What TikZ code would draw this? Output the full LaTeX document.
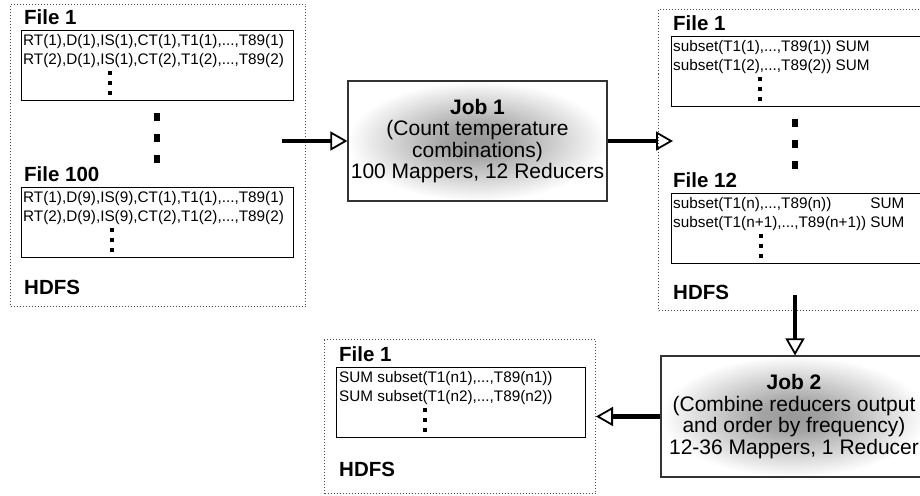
\documentclass[tikz,border=0pt]{standalone}
\usepackage{fontspec}
\setmainfont{Liberation Sans}
\usetikzlibrary{arrows.meta}
% soft grey glow behind the job descriptions
\pgfdeclareradialshading{jobglow}{\pgfpoint{0bp}{0bp}}{%
  color(0bp)=(black!40); color(6bp)=(black!36); color(25bp)=(white); color(50bp)=(white)}
\tikzset{
  hdfsbox/.style={draw=black!70, dotted, line width=1pt, inner sep=0pt, anchor=north west},
  filebox/.style={draw=black, line width=1.3pt, inner sep=0pt, anchor=north west},
  filetext/.style={anchor=north west, inner sep=0pt, align=left, font=\fontsize{15.3}{19}\selectfont},
  ftitle/.style={anchor=west, inner sep=0pt, font=\fontsize{20.5}{22}\selectfont\bfseries},
  jobbox/.style={draw=black!80, line width=1.2pt, shade, shading=jobglow, align=center,
    inner sep=0pt, font=\fontsize{21}{21.5}\selectfont},
  flow/.style={line width=4.5pt, -{Triangle[open, length=17pt, width=19pt, line width'=1.8pt]}},
  rowdot/.style={fill=black},
  gapdot/.style={fill=black},
}
\begin{document}
\begin{tikzpicture}[x=1pt, y=-1pt]
\useasboundingbox (0,0) rectangle (920,495);
\clip (0,0) rectangle (920,495);

% ---------- input files in HDFS ----------
\node[hdfsbox, minimum width=295pt, minimum height=302pt] (hdfsA) at (10,4) {};
\node[ftitle] (inF1) at (24,17) {File 1};
\node[filebox, minimum width=272pt, minimum height=70pt] (inB1) at (21,30) {};
\node[filetext] (inT1) at ([shift={(2,4.5)}]inB1.north west)
  {RT(1),D(1),IS(1),CT(1),T1(1),...,T89(1)\\RT(2),D(1),IS(1),CT(2),T1(2),...,T89(2)};
\node[ftitle] (inF100) at (24,174) {File 100};
\node[filebox, minimum width=272pt, minimum height=70pt] (inB100) at (21,187) {};
\node[filetext] (inT100) at ([shift={(2,4.5)}]inB100.north west)
  {RT(1),D(9),IS(9),CT(1),T1(1),...,T89(1)\\RT(2),D(9),IS(9),CT(2),T1(2),...,T89(2)};
\node[ftitle] (inHDFS) at (24,287) {HDFS};

% ---------- job 1 ----------
\node[jobbox, minimum width=259pt, minimum height=120pt] (job1) at (477.5,141)
  {\textbf{Job 1}\\(Count temperature\\combinations)\\100 Mappers, 12 Reducers};

% ---------- reducer output in HDFS ----------
\node[hdfsbox, minimum width=290pt, minimum height=301pt] (hdfsB) at (658,9) {};
\node[ftitle] (midF1) at (673,23) {File 1};
\node[filebox, minimum width=250pt, minimum height=70pt] (midB1) at (671,36) {};
\node[filetext] (midT1) at ([shift={(2,4.5)}]midB1.north west)
  {subset(T1(1),...,T89(1)) SUM\\subset(T1(2),...,T89(2)) SUM};
\node[ftitle] (midF12) at (673,180) {File 12};
\node[filebox, minimum width=250pt, minimum height=70pt] (midB12) at (671,193) {};
\node[filetext] (midT12) at ([shift={(2,4.5)}]midB12.north west)
  {\rlap{subset(T1(n),...,T89(n))}\phantom{subset(T1(n+1),...,T89(n+1))} SUM\\subset(T1(n+1),...,T89(n+1)) SUM};
\node[ftitle] (midHDFS) at (673,292) {HDFS};

% ---------- job 2 ----------
\node[jobbox, minimum width=266pt, minimum height=121pt] (job2) at (794,416.5)
  {\textbf{Job 2}\\(Combine reducers output\\and order by frequency)\\12-36 Mappers, 1 Reducer};

% ---------- final result in HDFS ----------
\node[hdfsbox, minimum width=271pt, minimum height=154pt] (hdfsC) at (324,339) {};
\node[ftitle] (outF1) at (339,354) {File 1};
\node[filebox, minimum width=249pt, minimum height=70pt] (outB1) at (336,367) {};
\node[filetext] (outT1) at ([shift={(3,4.5)}]outB1.north west)
  {SUM subset(T1(n1),...,T89(n1))\\SUM subset(T1(n2),...,T89(n2))};
\node[ftitle] (outHDFS) at (339,469) {HDFS};

% ---------- row continuation marks inside the files ----------
\foreach \x/\t in {110/30, 112/187, 760/36, 761/193, 425/367}
  \foreach \k in {43,53,63}
    \fill[rowdot] (\x-1.75,\t+\k-1.75) rectangle ++(3.5,3.5);

% ---------- file continuation marks ----------
\foreach \x/\y in {157/117, 157/138, 157/159, 795/123, 795/144, 795/165}
  \fill[gapdot] (\x-2.75,\y-3.75) rectangle ++(5.5,7.5);

% ---------- data flow ----------
\coordinate (inOut) at (282,141);
\coordinate (midIn) at (673,141);
\coordinate (midOut) at (795,295);
\draw[flow] (inOut) -- (job1.west);
\draw[flow] (job1.east) -- (midIn);
\draw[flow] (midOut) -- (midOut |- job2.north);
\draw[flow] (job2.west) -- (job2.west -| hdfsC.east);
\end{tikzpicture}
\end{document}
